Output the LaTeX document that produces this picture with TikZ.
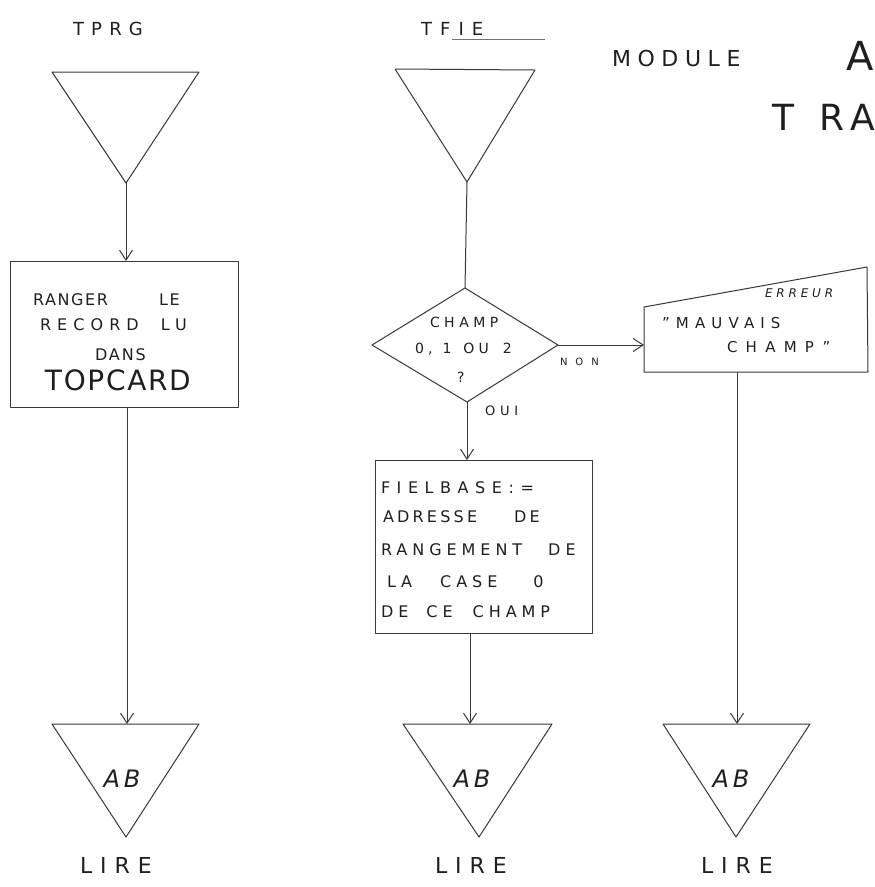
\documentclass[tikz,border=0pt]{standalone}
\usepackage{fontspec}
\setmainfont{DejaVu Sans}
\usetikzlibrary{arrows.meta}

% size and letter spacing of the hand lettering
\newcommand\lett[2]{\fontsize{#1}{#1}\selectfont\addfontfeature{LetterSpace=#2}}

\tikzset{
  pen/.style={draw=black!78, line width=1pt, line join=round},
  flow/.style={pen, -{Straight Barb[length=10pt,width=13pt]}},
  hand/.style={text=black!88, inner sep=0pt, outer sep=0pt, anchor=base west},
}

\begin{document}
\begin{tikzpicture}[x=1pt,y=-1pt]
\path[fill=white] (0,0) rectangle (875,887);
\clip (0,0) rectangle (875,887);
\useasboundingbox (0,0) rectangle (875,887);

% ---------- shape corners ----------
% left column
\coordinate (t1a) at (52,72);  \coordinate (t1b) at (199,72);  \coordinate (t1c) at (126,183);
\coordinate (b1a) at (10,261); \coordinate (b1b) at (238,407);
\coordinate (b1in) at (126,261); \coordinate (b1out) at (127,407);
\coordinate (e1a) at (52,724); \coordinate (e1b) at (199,724); \coordinate (e1c) at (126,837);
\coordinate (e1in) at (127,724);
% middle column
\coordinate (t2a) at (395,69); \coordinate (t2b) at (535,70); \coordinate (t2c) at (467,182);
\coordinate (dN) at (465,288); \coordinate (dW) at (372,345); \coordinate (dE) at (558,345); \coordinate (dS) at (467,402);
\coordinate (b2a) at (375,460); \coordinate (b2b) at (592,633);
\coordinate (b2in) at (467,460); \coordinate (b2out) at (470,633);
\coordinate (e2a) at (403,724); \coordinate (e2b) at (552,724); \coordinate (e2c) at (479,837);
\coordinate (e2in) at (470,724);
% right column
\coordinate (qa) at (644,307); \coordinate (qb) at (867,267); \coordinate (qc) at (868,372); \coordinate (qd) at (644,372);
\coordinate (qin) at (644,345); \coordinate (qout) at (737,372);
\coordinate (e3a) at (663,724); \coordinate (e3b) at (810,724); \coordinate (e3c) at (736,837);
\coordinate (e3in) at (737,724);

% ---------- shapes ----------
\draw[pen] (t1a) -- (t1b) -- (t1c) -- cycle;
\draw[pen] (b1a) rectangle (b1b);
\draw[pen] (e1a) -- (e1b) -- (e1c) -- cycle;

\draw[pen] (t2a) -- (t2b) -- (t2c) -- cycle;
\draw[pen] (dN) -- (dE) -- (dS) -- (dW) -- cycle;
\draw[pen] (b2a) rectangle (b2b);
\draw[pen] (e2a) -- (e2b) -- (e2c) -- cycle;

\draw[pen] (qa) -- (qb) -- (qc) -- (qd) -- cycle;
\draw[pen] (e3a) -- (e3b) -- (e3c) -- cycle;

% ---------- connectors ----------
\draw[flow] (t1c) -- (b1in);
\draw[flow] (b1out) -- (e1in);
\draw[pen]  (t2c) -- (dN);
\draw[flow] (dS) -- (b2in);
\draw[flow] (b2out) -- (e2in);
\draw[flow] (dE) -- (qin);
\draw[flow] (qout) -- (e3in);

% ---------- headings ----------
\node[hand, font=\lett{18}{40}] (hTPRG) at (73,35) {TPRG};
\node[hand, font=\lett{18}{45}] (hTFIE) at (421,35) {TFIE};
\coordinate (ulA) at (452,39); \coordinate (ulB) at (545,39);
\draw[draw=black!55, line width=0.6pt] (ulA) -- (ulB);
\node[hand, font=\lett{22}{30}] (hMod) at (612,66) {MODULE};
\node[hand, font=\lett{40}{0}] (hA) at (846,70) {A};
\node[hand, font=\lett{36}{0}] (hTRA) at (772,130) {T\hspace{26pt}R\hspace{6pt}A};

% ---------- left box ----------
\node[hand, font=\lett{16}{10}] (l1) at (33,305) {RANGER\hspace{51pt}LE};
\node[hand, font=\lett{16}{38}] (l2) at (40,330) {RECORD\hspace{22pt}LU};
\node[hand, font=\lett{16}{12}] (l3) at (95,360) {DANS};
\node[hand, font=\lett{28}{6}]  (l4) at (45,390) {TOPCARD};

% ---------- decision ----------
\node[hand, font=\lett{14}{32}] (d1) at (430,327) {CHAMP};
\node[hand, font=\lett{14}{30}] (d2) at (415,353) {0,\hspace{10pt}1\hspace{12pt}OU\hspace{14pt}2};
\node[hand, font=\lett{14}{0}]  (d3) at (457,382) {?};
\node[hand, font=\lett{10}{80}] (dnon) at (560,365) {NON};
\node[hand, font=\lett{13}{37}] (doui) at (485,415) {OUI};

% ---------- error message ----------
\node[hand, font=\itshape\lett{12}{32}] (m0) at (765,297) {ERREUR};
\node[hand, font=\lett{15}{41}] (m1) at (662,328) {"MAUVAIS};
\node[hand, font=\lett{15}{55}] (m2) at (727,352) {CHAMP"};

% ---------- middle box ----------
\node[hand, font=\lett{16}{41}] (f1) at (381,493) {FIELBASE:=};
\node[hand, font=\lett{16}{20}] (f2) at (383,522) {ADRESSE\hspace{37pt}DE};
\node[hand, font=\lett{16}{31}] (f3) at (381,555) {RANGEMENT\hspace{26pt}DE};
\node[hand, font=\lett{16}{31}] (f4) at (387,587) {LA\hspace{28pt}CASE\hspace{36pt}0};
\node[hand, font=\lett{16}{31}] (f5) at (381,617) {DE\hspace{18pt}CE\hspace{20pt}CHAMP};

% ---------- exits ----------
\node[hand, anchor=base, font=\itshape\lett{24}{16}] (ab1) at (122,787) {AB};
\node[hand, anchor=base, font=\itshape\lett{24}{16}] (ab2) at (472,787) {AB};
\node[hand, anchor=base, font=\itshape\lett{24}{16}] (ab3) at (731,787) {AB};
\node[hand, font=\lett{22}{36}] (lire1) at (80,873) {LIRE};
\node[hand, font=\lett{22}{36}] (lire2) at (435,873) {LIRE};
\node[hand, font=\lett{22}{36}] (lire3) at (701,873) {LIRE};
\end{tikzpicture}
\end{document}
